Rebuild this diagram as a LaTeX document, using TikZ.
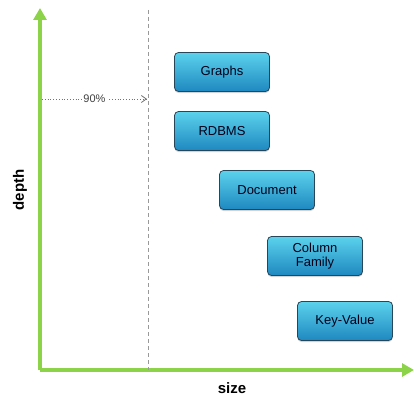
\documentclass[tikz,border=0pt]{standalone}
\usepackage{fontspec}
\setmainfont{Liberation Sans}
\usepackage{xcolor}
\usetikzlibrary{positioning,calc,shadows,arrows.meta}
\definecolor{axisgreen}{RGB}{141,211,74}
\definecolor{boxtop}{RGB}{92,210,236}
\definecolor{boxbot}{RGB}{30,136,192}
\definecolor{boxline}{RGB}{40,70,90}

\begin{document}
\begin{tikzpicture}[x=1pt, y=-1pt,
    db/.style={rectangle, rounded corners=4pt, draw=boxline, line width=0.8pt, top color=boxtop, bottom color=boxbot,
        minimum width=95pt, minimum height=39pt, align=center, font=\fontsize{13}{14}\selectfont, text=black!90!blue,
        drop shadow={shadow xshift=0pt, shadow yshift=-1.5pt, opacity=0.35}},
    axis/.style={draw=axisgreen, line width=3.5pt, -{Triangle[length=12pt, width=13pt]}}]
    \useasboundingbox (0,0) rectangle (414,396);

    % axes
    \coordinate (O) at (40,370);
    \coordinate (ytop) at (40,8);
    \coordinate (xend) at (414,370);
    \draw[axis] (O) -- (ytop);
    \draw[axis] (O) -- (xend);
    \node[font=\bfseries\fontsize{15}{16}\selectfont, rotate=90] (depth) at (20,190) {depth};
    \node[font=\bfseries\fontsize{15}{16}\selectfont] (size) at (232,388) {size};

    % 90% marker
    \coordinate (cuttop) at (148,10);
    \coordinate (cutbot) at (148,370);
    \draw[dashed, gray!80, dash pattern=on 4pt off 3pt] (cuttop) -- (cutbot);
    \coordinate (ptl) at (42,99);
    \coordinate (ptr) at (147,99);
    \draw[dotted, gray!90!black, thick, -{Straight Barb[length=5pt, width=7pt]}] (ptl) -- node[fill=white, inner sep=1pt, font=\fontsize{11}{12}\selectfont, text=black!75] (pct) {90\%} (ptr);

    % data stores
    \node[db] (graphs) at (222,72) {Graphs};
    \node[db] (rdbms) at (222,131) {RDBMS};
    \node[db] (doc) at (267,190) {Document};
    \node[db] (colfam) at (315,256) {Column\\Family};
    \node[db] (kv) at (345,321) {Key-Value};
\end{tikzpicture}
\end{document}
